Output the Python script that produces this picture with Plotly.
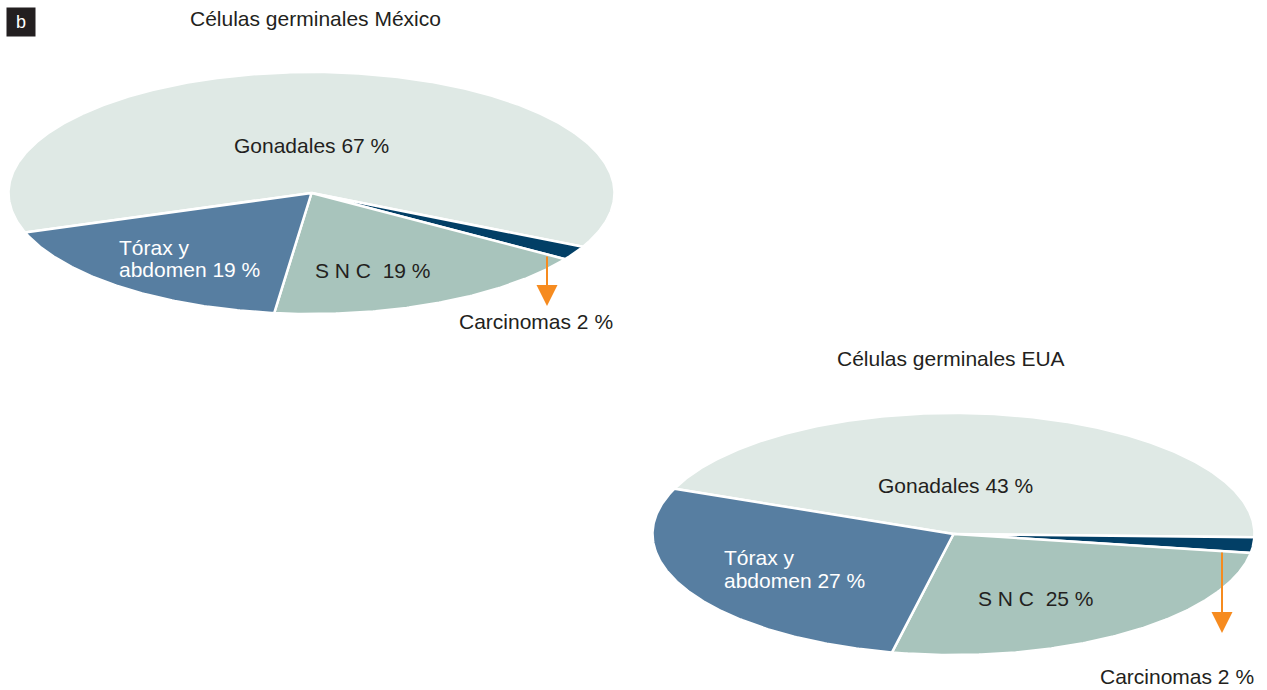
import numpy as np
import plotly.graph_objects as go

# ---------------- data ----------------
categories = ["Gonadales", "Tórax y abdomen", "S N C", "Carcinomas"]
mexico_values = [67, 19, 19, 2]
eua_values = [43, 27, 25, 2]
chart_titles = ["Células germinales México", "Células germinales EUA"]
mexico_labels = ["Gonadales 67 %", ["Tórax y", "abdomen 19 %"], "S N C  19 %", "Carcinomas 2 %"]
eua_labels = ["Gonadales 43 %", ["Tórax y", "abdomen 27 %"], "S N C  25 %", "Carcinomas 2 %"]
panel_letter = "b"

# ---------------- style ----------------
slice_colors = ["#dfe9e5", "#577ea1", "#a8c4bc", "#023f66"]
draw_order = [0, 3, 2, 1]  # clockwise order of slices
text_dark = "#231f20"
arrow_color = "#f68b1f"
FONT = "Liberation Sans, Arial, sans-serif"
FS = 21

W, H = 1267, 690
fig = go.Figure()


def tilted_pie(values, cx, cy, rx, ry, start_deg):
    total = float(sum(values))
    cursor = start_deg
    for idx in draw_order:
        span = values[idx] / total * 360.0
        th = np.radians(np.linspace(cursor, cursor - span, max(int(span * 2), 4)))
        xs = np.concatenate([[cx], cx + rx * np.cos(th), [cx]])
        ys = np.concatenate([[cy], cy - ry * np.sin(th), [cy]])
        fig.add_trace(go.Scatter(
            x=xs, y=ys, mode="lines", fill="toself",
            fillcolor=slice_colors[idx],
            line=dict(color="white", width=2.5),
            hoverinfo="skip", showlegend=False,
        ))
        cursor -= span


# México pie
tilted_pie(mexico_values, 311.5, 193, 303, 121, 199)
# EUA pie
tilted_pie(eua_values, 953.5, 534, 301, 121, 158)

ann = []


def txt(x, y, s, color=text_dark, size=FS, xanchor="center"):
    ann.append(dict(x=x, y=y, xref="x", yref="y", text=s, showarrow=False,
                    font=dict(family=FONT, size=size, color=color),
                    xanchor=xanchor, yanchor="middle"))


# titles
txt(315, 18, chart_titles[0])
txt(951, 358, chart_titles[1])

# México labels
txt(311, 145, mexico_labels[0])
txt(117, 247, mexico_labels[1][0], color="white", xanchor="left")
txt(117, 269, mexico_labels[1][1], color="white", xanchor="left")
txt(373, 270, mexico_labels[2])
txt(536, 321, mexico_labels[3])

# EUA labels
txt(955, 485, eua_labels[0])
txt(722, 557, eua_labels[1][0], color="white", xanchor="left")
txt(722, 580, eua_labels[1][1], color="white", xanchor="left")
txt(1036, 598, eua_labels[2])
txt(1177, 676, eua_labels[3])

# arrows
for (x0, y0, y1) in [(547, 255, 306), (1222, 551, 633)]:
    ann.append(dict(x=x0, y=y1, ax=x0, ay=y0, xref="x", yref="y", axref="x", ayref="y",
                    text="", showarrow=True, arrowhead=2, arrowsize=2.1, arrowwidth=2,
                    arrowcolor=arrow_color))

# panel letter badge
ann.append(dict(x=21, y=22, xref="x", yref="y", text=panel_letter, showarrow=False,
                font=dict(family=FONT, size=18, color="white"),
                bgcolor="#231f20", borderpad=4, width=20, height=20,
                xanchor="center", yanchor="middle"))

fig.update_layout(
    width=W, height=H,
    margin=dict(l=0, r=0, t=0, b=0),
    paper_bgcolor="white", plot_bgcolor="white",
    xaxis=dict(range=[0, W], visible=False, fixedrange=True),
    yaxis=dict(range=[H, 0], visible=False, fixedrange=True),
    annotations=ann,
    showlegend=False,
)

fig.write_html("out.html", config={"displayModeBar": False},
               post_script="document.body.style.margin='0';")
